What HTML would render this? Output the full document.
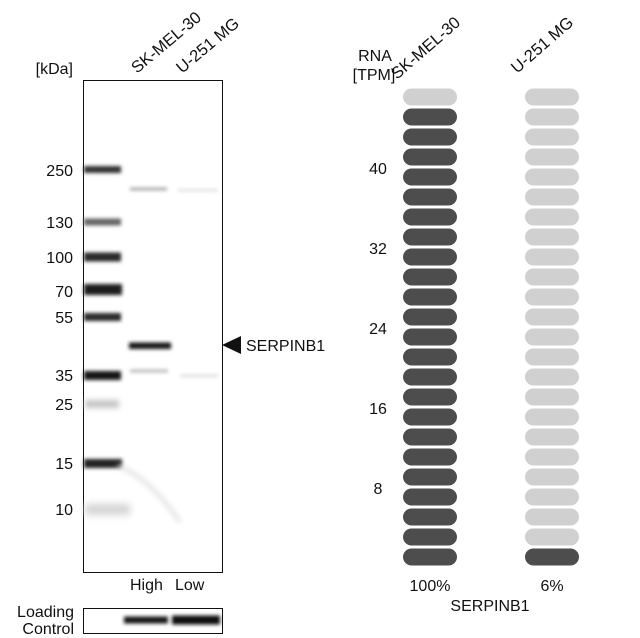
<!DOCTYPE html>
<html><head><meta charset="utf-8"><style>
html,body{margin:0;padding:0;background:#fff;}
svg{display:block;}
text{font-family:"Liberation Sans",Arial,sans-serif;fill:#111;}
</style></head><body>
<svg width="640" height="638" viewBox="0 0 640 638" xmlns="http://www.w3.org/2000/svg">
<defs>
<filter id="b1" x="-20%" y="-200%" width="140%" height="500%"><feGaussianBlur stdDeviation="1.8"/></filter>
<filter id="b2" x="-20%" y="-200%" width="140%" height="500%"><feGaussianBlur stdDeviation="2.6"/></filter>
<filter id="b3" x="-20%" y="-200%" width="140%" height="500%"><feGaussianBlur stdDeviation="3.8"/></filter>
</defs>
<rect width="640" height="638" fill="#fff"/>

<!-- LEFT: western blot -->
<text x="73" y="74" font-size="16" text-anchor="end">[kDa]</text>
<text transform="translate(137,74) rotate(-40)" font-size="16.5">SK-MEL-30</text>
<text transform="translate(182,74) rotate(-40)" font-size="16.5">U-251 MG</text>

<rect x="83.5" y="80.5" width="139" height="492" fill="#fff" stroke="#111" stroke-width="1"/>

<!-- ladder bands -->
<g>
<rect x="84" y="166" width="37" height="7" fill="#333" filter="url(#b1)"/>
<rect x="84" y="218.5" width="37" height="7" fill="#666" filter="url(#b1)"/>
<rect x="84" y="252.5" width="37" height="9" fill="#2a2a2a" filter="url(#b1)"/>
<rect x="84" y="284" width="38" height="11" fill="#1a1a1a" filter="url(#b1)"/>
<rect x="84" y="313" width="37" height="8" fill="#2a2a2a" filter="url(#b1)"/>
<rect x="84" y="371" width="37" height="9" fill="#151515" filter="url(#b1)"/>
<rect x="85" y="400" width="34" height="8" fill="#c4c4c4" filter="url(#b2)"/>
<rect x="84" y="459" width="38" height="9" fill="#222" filter="url(#b1)"/>
<path d="M118,466 Q150,478 180,522" stroke="#e2e2e2" stroke-width="4" fill="none" filter="url(#b2)"/>
<rect x="85" y="504" width="45" height="11" fill="#d4d4d4" filter="url(#b3)"/>
</g>

<!-- sample bands -->
<rect x="130" y="187.5" width="37" height="3" fill="#a8a8a8" filter="url(#b1)"/>
<rect x="178" y="189" width="40" height="2.5" fill="#e0e0e0" filter="url(#b1)"/>
<rect x="129" y="342.5" width="42" height="6.5" fill="#151515" filter="url(#b1)"/>
<rect x="130" y="369.5" width="38" height="3" fill="#b8b8b8" filter="url(#b1)"/>
<rect x="180" y="374.5" width="38" height="2.5" fill="#dcdcdc" filter="url(#b1)"/>

<!-- arrow + label -->
<polygon points="222,345 241,336 241,354" fill="#111"/>
<text x="246" y="351" font-size="16">SERPINB1</text>

<text x="130" y="590" font-size="16">High</text>
<text x="175" y="590" font-size="16">Low</text>

<text x="74" y="617" font-size="16" text-anchor="end">Loading</text>
<text x="74" y="634" font-size="16" text-anchor="end">Control</text>
<rect x="83.5" y="608.5" width="139" height="25" fill="#fff" stroke="#111" stroke-width="1"/>
<rect x="124" y="616.5" width="44" height="7" fill="#151515" filter="url(#b1)"/>
<rect x="172" y="615.5" width="48" height="9" fill="#111" filter="url(#b1)"/>

<!-- ladder labels -->
<g font-size="16" text-anchor="end">
<text x="73" y="176">250</text>
<text x="73" y="228">130</text>
<text x="73" y="263">100</text>
<text x="73" y="297">70</text>
<text x="73" y="323">55</text>
<text x="73" y="381">35</text>
<text x="73" y="410">25</text>
<text x="73" y="469">15</text>
<text x="73" y="515">10</text>
</g>

<!-- RIGHT: RNA pills -->
<text x="375" y="61" font-size="16" text-anchor="middle">RNA</text>
<text x="374" y="80" font-size="16" text-anchor="middle">[TPM]</text>
<text transform="translate(397,80) rotate(-41)" font-size="16.5">SK-MEL-30</text>
<text transform="translate(517,74) rotate(-41)" font-size="16.5">U-251 MG</text>

<g font-size="16" text-anchor="middle">
<text x="378" y="174">40</text>
<text x="378" y="254">32</text>
<text x="378" y="334">24</text>
<text x="378" y="414">16</text>
<text x="378" y="494">8</text>
</g>

<g>
<rect x="403" y="88.5" width="54" height="17" rx="8.5" fill="#d0d0d0"/>
<rect x="403" y="108.5" width="54" height="17" rx="8.5" fill="#4d4d4d"/>
<rect x="403" y="128.5" width="54" height="17" rx="8.5" fill="#4d4d4d"/>
<rect x="403" y="148.5" width="54" height="17" rx="8.5" fill="#4d4d4d"/>
<rect x="403" y="168.5" width="54" height="17" rx="8.5" fill="#4d4d4d"/>
<rect x="403" y="188.5" width="54" height="17" rx="8.5" fill="#4d4d4d"/>
<rect x="403" y="208.5" width="54" height="17" rx="8.5" fill="#4d4d4d"/>
<rect x="403" y="228.5" width="54" height="17" rx="8.5" fill="#4d4d4d"/>
<rect x="403" y="248.5" width="54" height="17" rx="8.5" fill="#4d4d4d"/>
<rect x="403" y="268.5" width="54" height="17" rx="8.5" fill="#4d4d4d"/>
<rect x="403" y="288.5" width="54" height="17" rx="8.5" fill="#4d4d4d"/>
<rect x="403" y="308.5" width="54" height="17" rx="8.5" fill="#4d4d4d"/>
<rect x="403" y="328.5" width="54" height="17" rx="8.5" fill="#4d4d4d"/>
<rect x="403" y="348.5" width="54" height="17" rx="8.5" fill="#4d4d4d"/>
<rect x="403" y="368.5" width="54" height="17" rx="8.5" fill="#4d4d4d"/>
<rect x="403" y="388.5" width="54" height="17" rx="8.5" fill="#4d4d4d"/>
<rect x="403" y="408.5" width="54" height="17" rx="8.5" fill="#4d4d4d"/>
<rect x="403" y="428.5" width="54" height="17" rx="8.5" fill="#4d4d4d"/>
<rect x="403" y="448.5" width="54" height="17" rx="8.5" fill="#4d4d4d"/>
<rect x="403" y="468.5" width="54" height="17" rx="8.5" fill="#4d4d4d"/>
<rect x="403" y="488.5" width="54" height="17" rx="8.5" fill="#4d4d4d"/>
<rect x="403" y="508.5" width="54" height="17" rx="8.5" fill="#4d4d4d"/>
<rect x="403" y="528.5" width="54" height="17" rx="8.5" fill="#4d4d4d"/>
<rect x="403" y="548.5" width="54" height="17" rx="8.5" fill="#4d4d4d"/>
</g>
<g>
<rect x="525" y="88.5" width="54" height="17" rx="8.5" fill="#d0d0d0"/>
<rect x="525" y="108.5" width="54" height="17" rx="8.5" fill="#d0d0d0"/>
<rect x="525" y="128.5" width="54" height="17" rx="8.5" fill="#d0d0d0"/>
<rect x="525" y="148.5" width="54" height="17" rx="8.5" fill="#d0d0d0"/>
<rect x="525" y="168.5" width="54" height="17" rx="8.5" fill="#d0d0d0"/>
<rect x="525" y="188.5" width="54" height="17" rx="8.5" fill="#d0d0d0"/>
<rect x="525" y="208.5" width="54" height="17" rx="8.5" fill="#d0d0d0"/>
<rect x="525" y="228.5" width="54" height="17" rx="8.5" fill="#d0d0d0"/>
<rect x="525" y="248.5" width="54" height="17" rx="8.5" fill="#d0d0d0"/>
<rect x="525" y="268.5" width="54" height="17" rx="8.5" fill="#d0d0d0"/>
<rect x="525" y="288.5" width="54" height="17" rx="8.5" fill="#d0d0d0"/>
<rect x="525" y="308.5" width="54" height="17" rx="8.5" fill="#d0d0d0"/>
<rect x="525" y="328.5" width="54" height="17" rx="8.5" fill="#d0d0d0"/>
<rect x="525" y="348.5" width="54" height="17" rx="8.5" fill="#d0d0d0"/>
<rect x="525" y="368.5" width="54" height="17" rx="8.5" fill="#d0d0d0"/>
<rect x="525" y="388.5" width="54" height="17" rx="8.5" fill="#d0d0d0"/>
<rect x="525" y="408.5" width="54" height="17" rx="8.5" fill="#d0d0d0"/>
<rect x="525" y="428.5" width="54" height="17" rx="8.5" fill="#d0d0d0"/>
<rect x="525" y="448.5" width="54" height="17" rx="8.5" fill="#d0d0d0"/>
<rect x="525" y="468.5" width="54" height="17" rx="8.5" fill="#d0d0d0"/>
<rect x="525" y="488.5" width="54" height="17" rx="8.5" fill="#d0d0d0"/>
<rect x="525" y="508.5" width="54" height="17" rx="8.5" fill="#d0d0d0"/>
<rect x="525" y="528.5" width="54" height="17" rx="8.5" fill="#d0d0d0"/>
<rect x="525" y="548.5" width="54" height="17" rx="8.5" fill="#4d4d4d"/>
</g>

<text x="430" y="591" font-size="16" text-anchor="middle">100%</text>
<text x="552" y="591" font-size="16" text-anchor="middle">6%</text>
<text x="490" y="611" font-size="16" text-anchor="middle">SERPINB1</text>
</svg>
</body></html>
